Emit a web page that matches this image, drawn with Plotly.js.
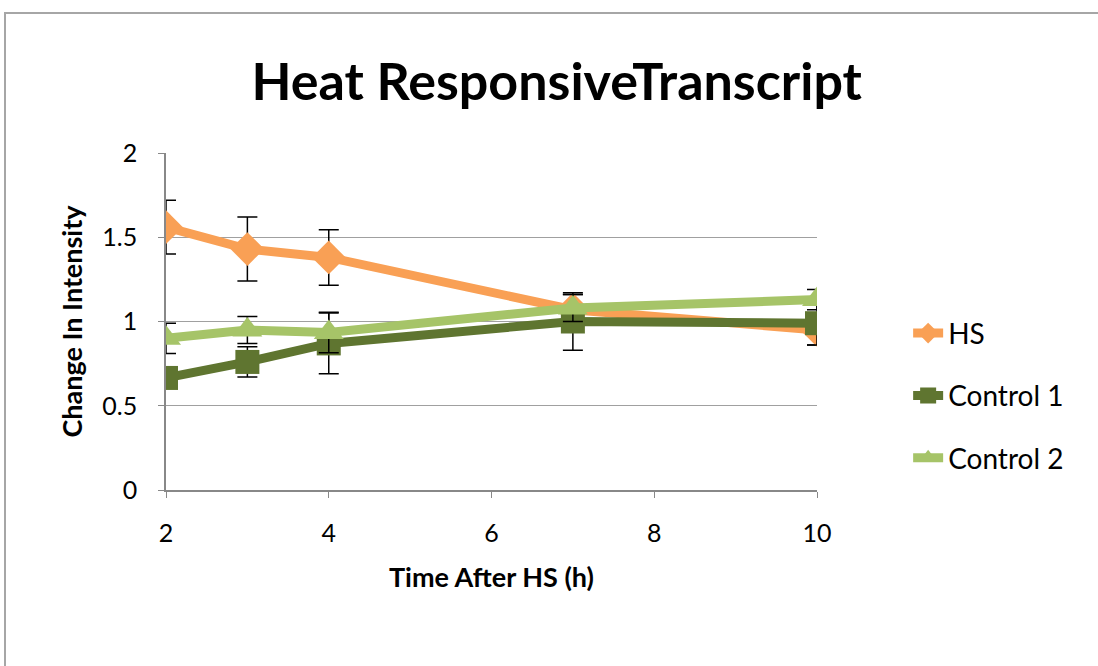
<!DOCTYPE html>
<html>
<head>
<meta charset="utf-8">
<script src="https://cdn.plot.ly/plotly-3.0.1.min.js"></script>
<style>
html,body{margin:0;padding:0;background:#fff;}
#frame{position:absolute;left:4px;top:12px;width:1200px;height:800px;border-left:2px solid #a6a6a6;border-top:2px solid #a6a6a6;}
#chart{position:absolute;left:0;top:0;width:1098px;height:666px;}
</style>
</head>
<body>
<div id="frame"></div>
<div id="chart"></div>
<script>
var timeHours = [2, 3, 4, 7, 10];
var hsValues = [1.56, 1.43, 1.38, 1.07, 0.95];
var hsErrors = [0.16, 0.19, 0.165, 0.09, 0.09];
var control1Values = [0.665, 0.76, 0.87, 1.0, 0.99];
var control1Errors = [0.05, 0.09, 0.18, 0.17, 0.13];
var control2Values = [0.90, 0.95, 0.935, 1.08, 1.13];
var control2Errors = [0.09, 0.08, 0.12, 0.08, 0.06];
var seriesNames = ['HS', 'Control 1', 'Control 2'];
var yTicks = [0, 0.5, 1, 1.5, 2];
var yTickLabels = ['0', '0.5', '1', '1.5', '2'];
var xTicks = [2, 4, 6, 8, 10];

function mk(name, y, err, color, symbol, size, grp) {
  return {
    x: timeHours, y: y, name: name, type: 'scatter', mode: 'lines+markers',
    legendgroup: grp,
    line: {color: color, width: 9},
    marker: {color: color, symbol: symbol, size: size},
    error_y: {type: 'data', array: err, visible: true, color: '#000', thickness: 1.5, width: 10}
  };
}
var data = [
  mk(seriesNames[0], hsValues, hsErrors, '#F9A055', 'diamond', 26, 'a'),
  mk(seriesNames[1], control1Values, control1Errors, '#5F7530', 'square', 24, 'b'),
  mk(seriesNames[2], control2Values, control2Errors, '#A6C468', 'triangle-up', 26, 'c')
];
var layout = {
  width: 1098, height: 666,
  paper_bgcolor: 'rgba(0,0,0,0)', plot_bgcolor: 'rgba(0,0,0,0)',
  margin: {l: 166, r: 281, t: 153, b: 176},
  font: {family: 'Lato, "Open Sans", sans-serif', color: '#000'},
  title: {text: '<b>Heat ResponsiveTranscript</b>', font: {size: 52, color: '#000'}, x: 0.507, xanchor: 'center', y: 0.877, yanchor: 'middle'},
  xaxis: {
    range: [2, 10], tickvals: xTicks, showgrid: false, zeroline: false,
    showline: true, linecolor: '#888', linewidth: 1.5,
    ticks: 'outside', ticklen: 6, tickcolor: '#888',
    tickfont: {size: 25}, ticklabelstandoff: 14,
    title: {text: '<b>Time After HS (h)</b>', font: {size: 27}, standoff: 22}
  },
  yaxis: {
    range: [0, 2], tickvals: yTicks, ticktext: yTickLabels,
    showgrid: true, gridcolor: '#a0a0a0', gridwidth: 1.2, zeroline: false,
    showline: true, linecolor: '#888', linewidth: 1.5,
    ticks: 'outside', ticklen: 6, tickcolor: '#888',
    tickfont: {size: 25}, ticklabelstandoff: 16,
    title: {text: '<b>Change In Intensity</b>', font: {size: 27}, standoff: 12}
  },
  showlegend: true,
  legend: {x: 1.14, y: 0.539, xanchor: 'left', yanchor: 'top', traceorder: 'grouped', tracegroupgap: 23, font: {size: 28}, bgcolor: 'rgba(0,0,0,0)'}
};
Plotly.newPlot('chart', data, layout, {displayModeBar: false});
</script>
</body>
</html>
